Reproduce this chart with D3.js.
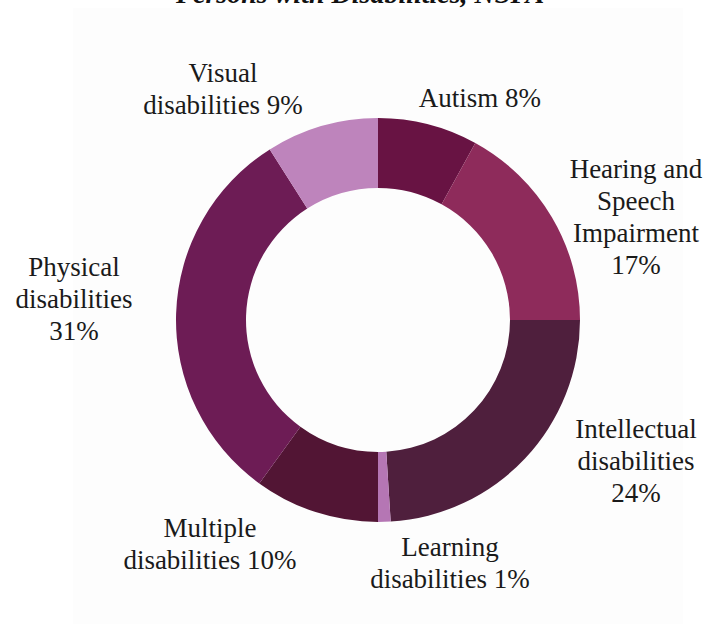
<!DOCTYPE html>
<html><head><meta charset="utf-8">
<script src="https://cdn.jsdelivr.net/npm/d3@7"></script>
<style>html,body{margin:0;padding:0;background:#fff;}svg{display:block;}</style>
</head><body>
<script>
const title = "Persons with Disabilities, NSPA";
const categories = ["Autism", "Hearing and Speech Impairment", "Intellectual disabilities", "Learning disabilities", "Multiple disabilities", "Physical disabilities", "Visual disabilities"];
const values = [8, 17, 24, 1, 10, 31, 9];
const colors = ["#681343", "#8e2b5b", "#4f1f3d", "#b576b4", "#521534", "#6d1c55", "#be84bc"];
// label lines (text) per category
const labelLines = [
  ["Autism 8%"],
  ["Hearing and", "Speech", "Impairment", "17%"],
  ["Intellectual", "disabilities", "24%"],
  ["Learning", "disabilities 1%"],
  ["Multiple", "disabilities 10%"],
  ["Physical", "disabilities", "31%"],
  ["Visual", "disabilities 9%"]
];
// layout: label anchor (center x, first baseline y)
const labelPos = [[480,107],[636,178],[636,438],[450,556],[210,537],[74,276],[223,82]];

const W = 708, H = 624;
const cx = 378, cy = 320, rOuter = 202, rInner = 132;

const svg = d3.select("body").append("svg").attr("width", W).attr("height", H);
svg.append("rect").attr("x",73).attr("y",8).attr("width",610).attr("height",H-8).attr("fill","#fdfdfd");
svg.append("text").attr("x",360).attr("y",3).attr("text-anchor","middle")
  .attr("font-family","Liberation Serif").attr("font-weight","bold").attr("font-style","italic")
  .attr("font-size",28).attr("fill","#111").text(title);

const pie = d3.pie().sort(null).value(d => d)(values);
const arc = d3.arc().innerRadius(rInner).outerRadius(rOuter);
const g = svg.append("g").attr("transform", `translate(${cx},${cy})`);
g.selectAll("path").data(pie).join("path").attr("d", arc).attr("fill", (d,i) => colors[i]);

const lg = svg.append("g").attr("font-family","Liberation Serif").attr("font-size",27).attr("fill","#1a1a1a").attr("text-anchor","middle");
labelLines.forEach((lines, i) => {
  const t = lg.append("text").attr("x", labelPos[i][0]).attr("y", labelPos[i][1]);
  lines.forEach((ln, j) => t.append("tspan").attr("x", labelPos[i][0]).attr("dy", j === 0 ? 0 : 32).text(ln));
});
</script>
</body></html>
